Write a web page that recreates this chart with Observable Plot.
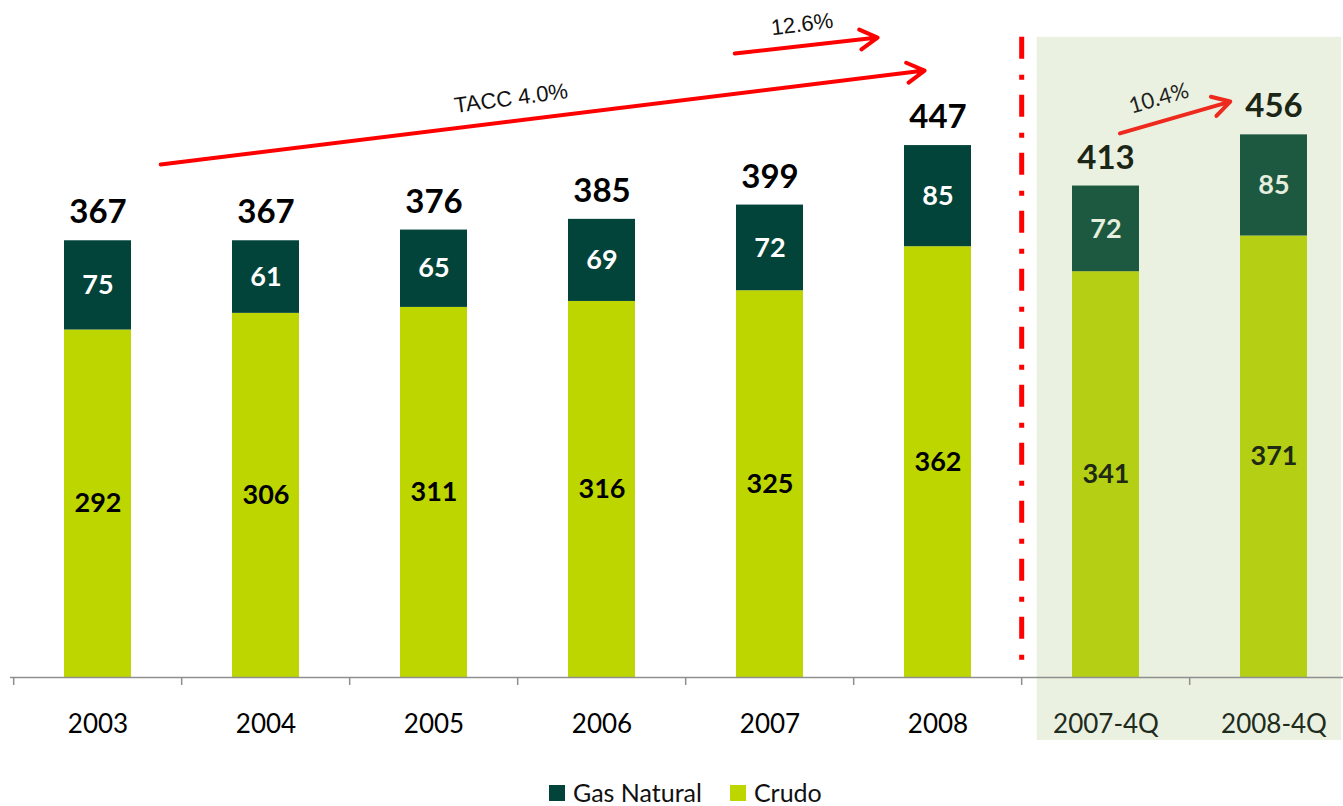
<!DOCTYPE html>
<html><head><meta charset="utf-8">
<script src="https://cdn.jsdelivr.net/npm/d3@7"></script>
<script src="https://cdn.jsdelivr.net/npm/@observablehq/plot@0.6"></script>
<style>
body{margin:0;background:#fff;font-family:Lato,sans-serif;}
#wrap{position:relative;width:1343px;height:806px;overflow:hidden;}
#legend{position:absolute;left:549px;top:780px;display:flex;align-items:center;font-size:25px;line-height:25px;color:#111;}
#legend .item{display:flex;align-items:center;margin-right:28px;}
#legend .sw{display:inline-block;width:16px;height:16px;margin-right:8px;}
</style></head><body><div id="wrap"><div id="chart"></div><div id="legend"></div></div>
<script>
const categories = ["2003","2004","2005","2006","2007","2008","2007-4Q","2008-4Q"];
const gasNatural = [75, 61, 65, 69, 72, 85, 72, 85];
const crudo      = [292, 306, 311, 316, 325, 362, 341, 371];
const totals     = [367, 367, 376, 385, 399, 447, 413, 456];
const seriesNames = ["Gas Natural", "Crudo"];
const growthLabels = ["TACC 4.0%", "12.6%", "10.4%"];

const COL = {
  gasA: "#03443a", gasQ: "#1d5840",
  crudoA: "#bed600", crudoQ: "#b5cf14",
  shade: "#eaf1e1", red: "#ff0000"
};

const rows = categories.map((c, i) => ({
  cat: c, gas: gasNatural[i], crudo: crudo[i], total: totals[i], q: c.includes("Q")
}));

const X0 = 11, X1 = 1360;
const step = (X1 - X0) / categories.length;
const years = categories.filter(c => !c.includes("Q"));
const quarters = categories.filter(c => c.includes("Q"));

const chart = Plot.plot({
  width: 1343, height: 775,
  marginLeft: 10, marginRight: 0, marginTop: 0, marginBottom: 98,
  style: {fontFamily: "Lato, sans-serif", background: "transparent", overflow: "visible"},
  x: {domain: categories, range: [X0, X1], paddingInner: 0.6, paddingOuter: 0.3, align: 0.5, label: null},
  y: {domain: [0, 500], range: [677, 82], axis: null, label: null},
  color: {type: "identity"},
  marks: [
    // shaded quarterly panel
    Plot.barY([quarters[0]], {x: d => d, y1: -53, y2: 538, fill: COL.shade, insetLeft: -35.3, insetRight: -202.2}),
    // bars
    Plot.barY(rows, {x: "cat", y1: 0, y2: "crudo", fill: d => d.q ? COL.crudoQ : COL.crudoA}),
    Plot.barY(rows, {x: "cat", y1: "crudo", y2: d => d.crudo + d.gas, fill: d => d.q ? COL.gasQ : COL.gasA}),
    // axis line and ticks
    Plot.ruleY([0], {stroke: "#8f8f8f", strokeWidth: 1.5}),
    Plot.ruleX(categories, {x: d => d, dx: -step / 2, y1: 0, y2: -6.7, stroke: "#8f8f8f", strokeWidth: 1.5}),
    Plot.axisX(years, {tickSize: 0, tickPadding: 37, fontSize: 26, fill: "#000", label: null}),
    Plot.axisX(quarters, {tickSize: 0, tickPadding: 37, fontSize: 26, fill: "#1f2b1c", label: null}),
    // separator
    Plot.ruleX([quarters[0]], {x: d => d, dx: -step / 2, y1: 538, y2: 5, stroke: COL.red, strokeWidth: 5, strokeDasharray: "22,16,5,15"}),
    // segment labels
    Plot.text(rows, {x: "cat", y: d => d.crudo / 2, text: d => String(d.crudo), fontSize: 27, fontWeight: "bold",
      fill: d => d.q ? "#1e2a14" : "#000", lineAnchor: "middle"}),
    Plot.text(rows, {x: "cat", y: d => d.crudo + d.gas / 2, text: d => String(d.gas), fontSize: 27, fontWeight: "bold",
      fill: d => d.q ? "#e6eedd" : "#fff", lineAnchor: "middle"}),
    Plot.text(rows, {x: "cat", y: d => d.crudo + d.gas, dy: -28, text: d => String(d.total), fontSize: 33, fontWeight: "bold",
      fill: d => d.q ? "#1c2616" : "#000", lineAnchor: "middle"}),
    // growth arrows
    Plot.arrow([0], {x1: () => "2003", y1: 424.6, x2: () => "2008", y2: 511.4, insetStart: 63.2, insetEnd: 13.5,
      stroke: COL.red, strokeWidth: 4, headLength: 7.5, headAngle: 60}),
    Plot.arrow([0], {x1: () => "2006", y1: 512, x2: () => "2008", y2: 543.4, insetStart: 133.6, insetEnd: 60.8,
      stroke: COL.red, strokeWidth: 4, headLength: 7.5, headAngle: 60}),
    Plot.arrow([0], {x1: () => "2007-4Q", y1: 453.8, x2: () => "2008-4Q", y2: 494.6, insetStart: 14.5, insetEnd: 45.5,
      stroke: "#ee2a1e", strokeWidth: 4, headLength: 7.5, headAngle: 60}),
    Plot.text([growthLabels[0]], {x: () => "2005", y: 486.6, dx: 77, text: d => d, rotate: -7.5,
      fontFamily: "Liberation Sans, Arial, sans-serif", fontSize: 22, fill: "#111", lineAnchor: "middle"}),
    Plot.text([growthLabels[1]], {x: () => "2007", y: 548.7, dx: 32, text: d => d, rotate: -7,
      fontFamily: "Liberation Sans, Arial, sans-serif", fontSize: 22, fill: "#111", lineAnchor: "middle"}),
    Plot.text([growthLabels[2]], {x: () => "2007-4Q", y: 486.6, dx: 53, text: d => d, rotate: -16,
      fontSize: 22, fill: "#222", lineAnchor: "middle"})
  ]
});
document.getElementById("chart").appendChild(chart);

const legend = document.getElementById("legend");
[[seriesNames[0], COL.gasA], [seriesNames[1], COL.crudoA]].forEach(([name, color]) => {
  const item = document.createElement("span");
  item.className = "item";
  item.innerHTML = `<span class="sw" style="background:${color}"></span><span>${name}</span>`;
  legend.appendChild(item);
});
</script>
</body></html>
